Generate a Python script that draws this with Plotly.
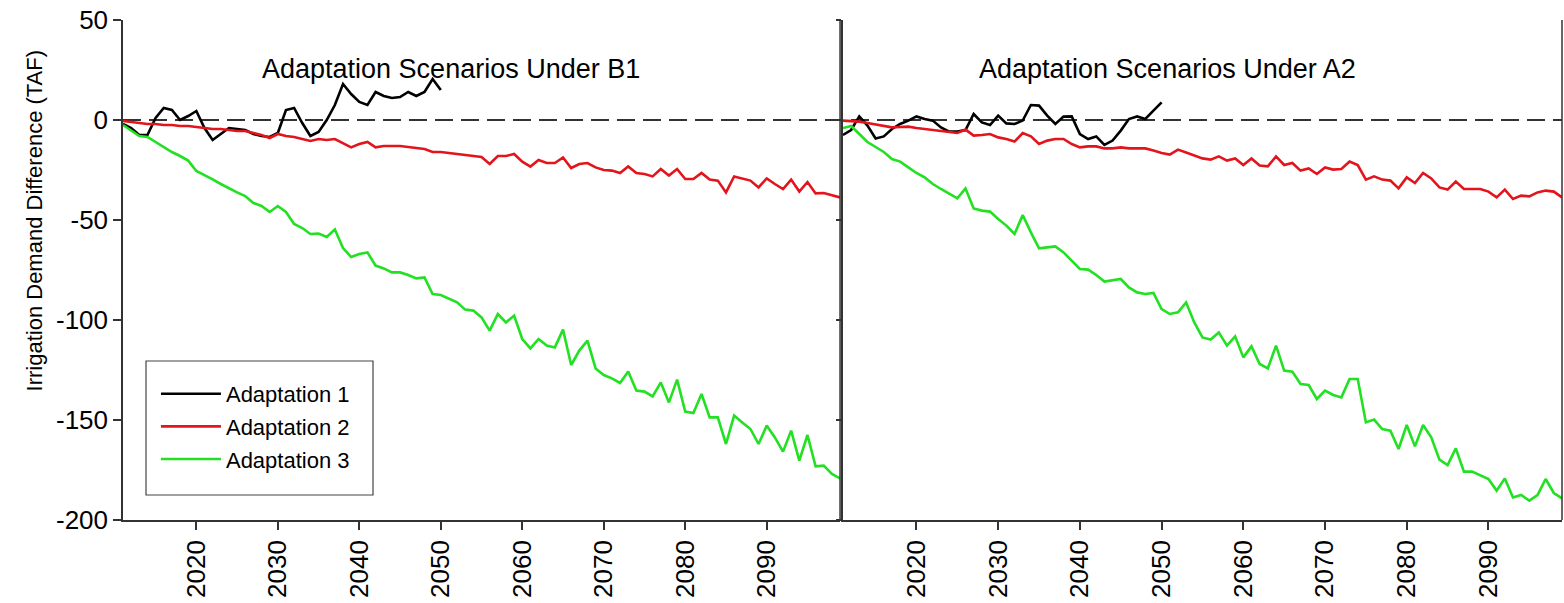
import plotly.graph_objects as go

years = list(range(2011, 2100))
years_a1 = list(range(2011, 2051))
tick_years = [2020, 2030, 2040, 2050, 2060, 2070, 2080, 2090]
y_ticks = [50, 0, -50, -100, -150, -200]
y_tick_labels = ["50", "0", "-50", "-100", "-150", "-200"]

b1_adapt1 = [-2, -4, -7.5, -7.5, 1, 6, 5, 0, 2, 4.5,
             -4, -10, -7, -4, -4.5, -5, -7, -8, -8.5, -6.5,
             5, 6, -1.5, -8, -6, 0, 7.5, 18, 13, 9,
             7.5, 14, 12, 11, 11.5, 14, 12, 14, 20.5, 15]
b1_adapt2 = [-0.5, -1, -1.5, -2, -2, -2.5, -2.5, -3, -3, -3.5,
             -4, -4.5, -4.5, -5, -5.5, -5.5, -6.5, -7.5, -9, -7,
             -8, -8.5, -9.5, -10.5, -9.5, -10, -9.5, -11.5, -13.7, -12,
             -11, -13.7, -13, -13, -13, -13.5, -14, -14.5, -16, -16,
             -16.5, -17, -17.5, -18, -18.5, -22, -18, -18, -17, -20.8,
             -23.3, -20, -21.5, -21.5, -18.7, -24, -22, -21.5, -23.7, -25,
             -25.3, -26.5, -23.2, -26.5, -27, -28.2, -24.5, -27.8, -24.5, -29.5,
             -29.5, -26.5, -29.8, -30.3, -36.2, -28.2, -29.2, -30.3, -33.7, -29.2,
             -32, -34.5, -29.8, -35.8, -31, -36.7, -36.5, -37.5, -38.7]
b1_adapt3 = [-2.5, -5.3, -8, -8.5, -11, -13.5, -16, -18, -20.3, -25.5,
             -27.5, -29.7, -32, -34.3, -36.2, -38, -41.5, -43, -46, -43,
             -46, -52, -54, -57, -56.8, -58.5, -54.7, -64, -68.5, -67,
             -66.2, -72.8, -74.2, -76.2, -76.2, -77.5, -79.2, -78.7, -87, -87.5,
             -89.2, -91.2, -94.8, -95.3, -98.7, -105.3, -97, -101.2, -97.8, -109.5,
             -114.2, -109.5, -112.8, -113.7, -104.8, -122.5, -115.3, -110.3, -124.2, -127.5,
             -129.2, -131.5, -125.8, -135.3, -135.8, -138.2, -131.2, -141.2, -129.8, -145.8,
             -146.5, -137, -148.7, -148.7, -162, -147.8, -151.2, -154.5, -162, -152.8,
             -158.7, -165.8, -155.3, -170.3, -157.5, -173.2, -172.8, -177, -179.2]

a2_adapt1 = [-7.5, -5, 1.8, -2.8, -9.2, -8.2, -4.5, -2, -0.3, 1.8,
             0.5, -0.3, -3.7, -5.8, -5.8, -5, 3, -1.2, -2.5, 2.2,
             -1.7, -2, -0.3, 7.5, 7.2, 2.2, -2, 1.7, 1.8, -7,
             -9.5, -8.2, -12.5, -10.3, -5.3, 0.5, 1.8, 0.5, 4.7, 8.8]
a2_adapt2 = [-0.3, -0.5, -0.8, -1.5, -2.3, -3, -3.7, -3.5, -3.3, -4,
             -4.5, -5, -5.8, -6.2, -6.5, -4.8, -7.8, -7.5, -7, -8.7,
             -9.5, -10.8, -6.5, -8.2, -12, -10.3, -9.5, -9.5, -12, -13.7,
             -13.2, -13.2, -14.2, -14.2, -13.7, -14.2, -14.2, -14.2, -15.3, -16.5,
             -17.3, -14.8, -16.2, -17.8, -19.2, -19.8, -18.2, -20.3, -19.2, -22.5,
             -19.2, -22.8, -23.2, -18.2, -22.5, -21.5, -25.3, -24.2, -27, -23.7,
             -24.8, -24.5, -20.8, -22.5, -29.8, -28.2, -29.8, -30.3, -34.2, -28.7,
             -31.5, -26.5, -29.2, -33.7, -34.8, -30.8, -34.5, -34.5, -34.5, -35.8,
             -38.7, -34.8, -39.5, -37.8, -38.2, -36.2, -35.3, -35.8, -38.7]
a2_adapt3 = [-4, -3, -7, -11, -13.5, -16, -19.5, -20.8, -23.7, -26.5,
             -28.7, -32, -34.5, -36.7, -39.2, -34.2, -44.2, -45.3, -45.8, -49.5,
             -52.8, -57, -47.5, -56.2, -64.2, -63.7, -63.2, -66.2, -70.3, -74.5,
             -74.8, -77.5, -80.8, -80.3, -79.5, -83.7, -86.2, -87, -86.5, -94.5,
             -97, -96.2, -91.2, -101.2, -108.7, -109.8, -106.2, -112.8, -108.2, -118.7,
             -113.2, -122, -124.2, -112.8, -125.3, -125.8, -132, -132.5, -139.5, -135.3,
             -137.5, -138.7, -129.5, -129.5, -151.2, -149.8, -154.5, -155.3, -164.5, -152.5,
             -163.2, -152.5, -158.7, -169.8, -172.5, -164.2, -175.8, -175.8, -177.5, -179.5,
             -185.3, -179.2, -188.7, -187.5, -190.3, -187.5, -179.5, -186.5, -189.2]

series_names = ["Adaptation 1", "Adaptation 2", "Adaptation 3"]
series_colors = ["#000000", "#e3141c", "#22e022"]
panel_titles = ["Adaptation Scenarios Under B1", "Adaptation Scenarios Under A2"]
y_title = "Irrigation Demand Difference (TAF)"

FONT = "Liberation Sans, Arial, sans-serif"
AX = "#333333"

fig = go.Figure()
panels = [
    ("x", "y", [years_a1, years, years], [b1_adapt1, b1_adapt2, b1_adapt3], True),
    ("x2", "y2", [years_a1, years, years], [a2_adapt1, a2_adapt2, a2_adapt3], False),
]
for xa, ya, xs, ys, show in panels:
    for i in range(3):
        fig.add_trace(go.Scatter(
            x=xs[i], y=ys[i], mode="lines", name=series_names[i],
            line=dict(color=series_colors[i], width=2.6),
            xaxis=xa, yaxis=ya, showlegend=show, legendgroup=series_names[i]))

xcommon = dict(range=[2011, 2099], tickvals=tick_years, ticktext=[str(t) for t in tick_years],
               tickangle=-90, ticks="outside", ticklen=8, tickwidth=1.5, tickcolor=AX,
               showline=True, linecolor=AX, linewidth=1.5, showgrid=False, zeroline=False,
               tickfont=dict(family=FONT, size=26, color="#000"))
ycommon = dict(range=[-200, 50], tickvals=y_ticks, ticktext=y_tick_labels,
               ticks="outside", tickwidth=1.5, tickcolor=AX,
               showline=True, linecolor=AX, linewidth=1.5, showgrid=False, zeroline=False,
               tickfont=dict(family=FONT, size=26, color="#000"))

fig.update_layout(
    width=1564, height=603,
    margin=dict(l=123, r=2, t=20, b=83),
    paper_bgcolor="white", plot_bgcolor="white",
    xaxis=dict(domain=[0, 0.4983], anchor="y", **xcommon),
    xaxis2=dict(domain=[0.5003, 1], anchor="y2", **xcommon),
    yaxis=dict(anchor="x", ticklen=8, **ycommon),
    yaxis2=dict(anchor="x2", ticklen=5, showticklabels=False, **ycommon),
    legend=dict(x=0.0229, y=0.294, xanchor="left", yanchor="top",
                borderwidth=0, bgcolor="rgba(0,0,0,0)",
                font=dict(family=FONT, size=22, color="#000"),
                tracegroupgap=1, itemwidth=60),
    showlegend=True,
)

shapes = [
    dict(type="line", xref="paper", x0=0, x1=1, yref="y", y0=0, y1=0,
         line=dict(color=AX, width=2, dash="18px,8px"), layer="below"),
    dict(type="line", xref="x domain", x0=1, x1=1, yref="y domain", y0=0, y1=1,
         line=dict(color=AX, width=1.5)),
    dict(type="line", xref="x2 domain", x0=1, x1=1, yref="y2 domain", y0=0, y1=1,
         line=dict(color=AX, width=1.5)),
    # legend frame
    dict(type="rect", xref="paper", yref="paper",
         x0=(146 - 123) / 1439, x1=(373 - 123) / 1439,
         y0=(520 - 495) / 500, y1=(520 - 361) / 500,
         line=dict(color="#444", width=1.2), fillcolor="white", layer="below"),
]
fig.update_layout(shapes=shapes)

fig.add_annotation(text=panel_titles[0], xref="x domain", yref="y domain", x=0.457, y=0.936,
                   showarrow=False, font=dict(family=FONT, size=27, color="#000"))
fig.add_annotation(text=panel_titles[1], xref="x2 domain", yref="y2 domain", x=0.452, y=0.936,
                   showarrow=False, font=dict(family=FONT, size=27, color="#000"))
fig.add_annotation(text=y_title, xref="paper", yref="paper", x=-0.0716, y=0.6,
                   textangle=-90, showarrow=False, font=dict(family=FONT, size=22, color="#000"))

fig.write_html("out.html", config={"displayModeBar": False},
               post_script="document.body.style.margin='0';")
